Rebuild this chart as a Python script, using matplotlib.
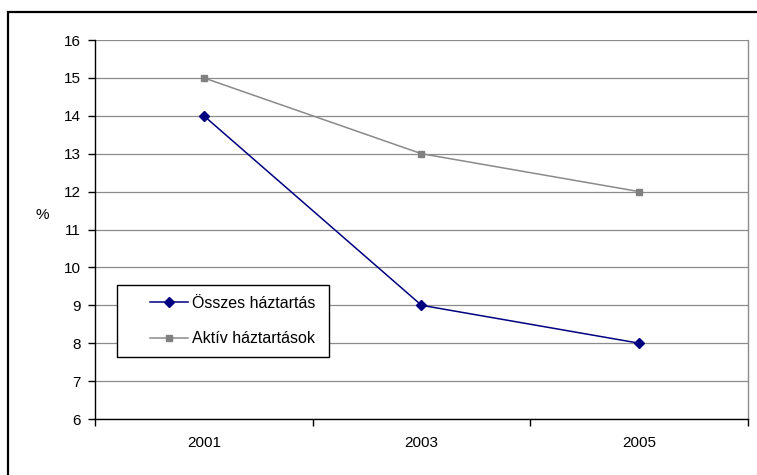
import matplotlib

matplotlib.use("Agg")
import matplotlib.pyplot as plt
from matplotlib.patches import Rectangle

plt.rcParams["font.family"] = ["Liberation Sans", "DejaVu Sans"]

years = ["2001", "2003", "2005"]
osszes = [14, 9, 8]
aktiv = [15, 13, 12]
y_ticks = list(range(6, 17))

fig = plt.figure(figsize=(7.57, 4.75), dpi=100)
ax = fig.add_axes([95 / 757, 1 - 419 / 475, 653 / 757, 379 / 475])

x = list(range(len(years)))
ax.plot(x, osszes, color="#000080", marker="D", markersize=5.5, linewidth=1.1,
        label="Összes háztartás", zorder=3)
ax.plot(x, aktiv, color="#8a8a8a", marker="s", markersize=5, linewidth=1.1,
        markerfacecolor="#808080", markeredgecolor="#808080",
        label="Aktív háztartások", zorder=3)

ax.set_xlim(-0.5, len(years) - 0.5)
ax.set_ylim(6, 16)
ax.set_yticks(y_ticks)
ax.set_xticks(x)
ax.set_xticklabels(years)
ax.set_xticks([i - 0.5 for i in range(len(years) + 1)], minor=True)
ax.tick_params(axis="x", which="major", length=0, pad=12, labelsize=11)
ax.tick_params(axis="x", which="minor", length=5, width=1, color="black", direction="out")
ax.tick_params(axis="y", length=5, width=1, color="black", direction="out", pad=5, labelsize=11)

ax.grid(True, axis="y", color="#8c8c8c", linewidth=0.9)
ax.set_axisbelow(True)
ax.spines["left"].set_color("black")
ax.spines["bottom"].set_color("black")
ax.spines["left"].set_linewidth(1)
ax.spines["bottom"].set_linewidth(1)
ax.spines["top"].set_visible(False)
ax.spines["right"].set_color("#8c8c8c")
ax.spines["right"].set_linewidth(1)

fig.text(42 / 757, 1 - 215 / 475, "%", fontsize=11, ha="center", va="center")

# legend box
ax.add_patch(Rectangle((22 / 653, 62 / 379), 212 / 653, 72 / 379, transform=ax.transAxes,
                       facecolor="white", edgecolor="black", linewidth=1, zorder=4))
ax.legend(loc="center left", bbox_to_anchor=(47 / 653, 98 / 379), frameon=False,
          borderpad=0, handlelength=2.4, handletextpad=0.25, labelspacing=1.3,
          fontsize=11.5).set_zorder(5)

# outer chart border (only top/left visible in crop)
fig.add_artist(Rectangle((8 / 757, -0.1), 1.2, 1 - 12 / 475 + 0.1, transform=fig.transFigure,
                         facecolor="none", edgecolor="black", linewidth=1.6))

fig.savefig("out.png", dpi=100)
